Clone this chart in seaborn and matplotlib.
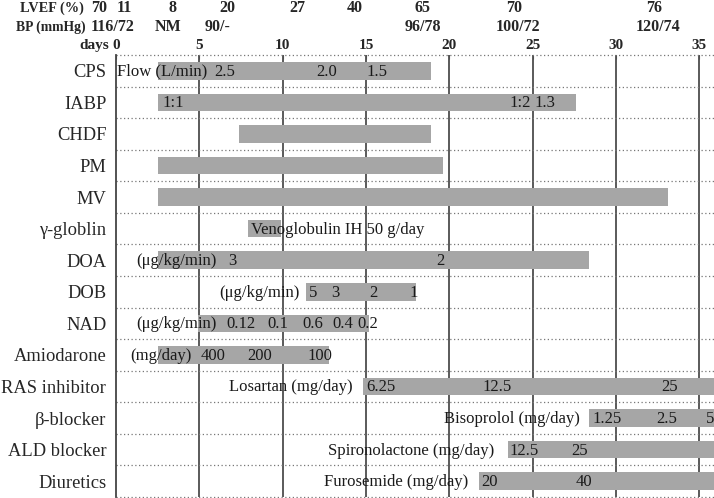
import matplotlib
matplotlib.use("Agg")
import matplotlib.pyplot as plt
import seaborn as sns
import pandas as pd
from matplotlib.transforms import blended_transform_factory

# ---------------- data ----------------
categories = ["CPS", "IABP", "CHDF", "PM", "MV", "γ-globlin", "DOA", "DOB",
              "NAD", "Amiodarone", "RAS inhibitor", "β-blocker", "ALD blocker",
              "Diuretics"]
start_day = [2.5, 2.5, 7.4, 2.5, 2.5, 7.9, 2.5, 11.4, 4.9, 2.5, 14.8, 28.4, 23.5, 21.8]
end_day = [18.9, 27.6, 18.9, 19.6, 33.1, 9.9, 28.4, 18.0, 15.2, 12.8, 36.5, 36.5, 36.5, 36.5]

day_ticks = [0, 5, 10, 15, 20, 25, 30, 35]

lvef_days = [-1.0, 0.5, 3.4, 6.7, 10.9, 14.3, 18.4, 23.9, 32.3]
lvef_values = ["70", "11", "8", "20", "27", "40", "65", "70", "76"]
bp_days = [-0.2, 3.1, 6.1, 18.4, 24.1, 32.5]
bp_values = ["116/72", "NM", "90/-", "96/78", "100/72", "120/74"]

note_rows = [0, 0, 0, 0,
             1, 1, 1,
             5,
             6, 6, 6,
             7, 7, 7, 7, 7,
             8, 8, 8, 8, 8, 8,
             9, 9, 9, 9,
             10, 10, 10, 10,
             11, 11, 11, 11,
             12, 12, 12,
             13, 13, 13]
note_days = [0.05, 5.9, 12.0, 15.0,
             2.8, 23.6, 25.1,
             8.1,
             1.2, 6.7, 19.2,
             6.2, 11.6, 12.9, 15.2, 17.6,
             1.2, 6.6, 9.1, 11.2, 13.0, 14.5,
             0.84, 5.1, 7.9, 11.5,
             6.8, 15.0, 22.0, 32.7,
             19.7, 28.6, 32.4, 35.4,
             12.7, 23.6, 27.3,
             12.5, 21.9, 27.6]
note_texts = ["Flow (L/min)", "2.5", "2.0", "1.5",
              "1:1", "1:2", "1.3",
              "Venoglobulin IH 50 g/day",
              "(μg/kg/min)", "3", "2",
              "(μg/kg/min)", "5", "3", "2", "1",
              "(μg/kg/min)", "0.12", "0.1", "0.6", "0.4", "0.2",
              "(mg/day)", "400", "200", "100",
              "Losartan (mg/day)", "6.25", "12.5", "25",
              "Bisoprolol (mg/day)", "1.25", "2.5", "5",
              "Spironolactone (mg/day)", "12.5", "25",
              "Furosemide (mg/day)", "20", "40"]

# ---------------- style ----------------
sns.set_style("white")
plt.rcParams["font.family"] = ["Liberation Serif", "DejaVu Serif"]

W, H = 714, 498
fig = plt.figure(figsize=(W / 100, H / 100), dpi=100)
ax_left, ax_top, ax_bottom = 116, 55, 497
ax = fig.add_axes([ax_left / W, 1 - ax_bottom / H, (W - ax_left) / W,
                   (ax_bottom - ax_top) / H])

df = pd.DataFrame({"category": categories, "end": end_day})
sns.barplot(data=df, x="end", y="category", orient="h", color="#a6a6a6",
            saturation=1, width=0.56, ax=ax, zorder=2)
for patch, s, e in zip(ax.patches, start_day, end_day):
    patch.set_x(s)
    patch.set_width(e - s)
    patch.set_edgecolor("none")

ax.set_xlim(0, (W - ax_left) / 16.67)
ax.set_ylim(len(categories) - 0.5, -0.5)
ax.set_xlabel("")
ax.set_ylabel("")

# vertical grid lines
for d in day_ticks[1:]:
    ax.axvline(d, color="#4d4d4d", lw=1.3, zorder=1)
# dotted row separators
for k in range(len(categories) + 1):
    ax.axhline(k - 0.5, color="#777777", ls=(0, (1, 2)), lw=0.9, zorder=1,
               clip_on=False)

for side in ["top", "right", "bottom"]:
    ax.spines[side].set_visible(False)
ax.spines["left"].set_color("#444444")
ax.spines["left"].set_linewidth(1.3)

ax.xaxis.tick_top()
ax.set_xticks(day_ticks)
ax.set_xticklabels([str(d) for d in day_ticks], fontweight="bold", fontsize=11)
ax.tick_params(axis="x", direction="in", length=3, pad=2, color="#666666")
ax.set_yticks(range(len(categories)))
ax.set_yticklabels(categories, fontsize=13.3)
ax.tick_params(axis="y", length=0, pad=7)

# notes inside / beside bars
for r, d, t in zip(note_rows, note_days, note_texts):
    ax.text(d, r + 0.03, t, ha="left", va="center", fontsize=12,
            color="#1a1a1a", zorder=3, clip_on=False)

# header rows
trans = blended_transform_factory(ax.transData, fig.transFigure)
y_lvef = 1 - 8 / H
y_bp = 1 - 27 / H
y_days = 1 - 46 / H
fig.text(20 / W, y_lvef, "LVEF (%)", ha="left", va="center",
         fontweight="bold", fontsize=10.3)
fig.text(16 / W, y_bp, "BP\u2009(mmHg)", ha="left", va="center",
         fontweight="bold", fontsize=9.8)
for d, v in zip(lvef_days, lvef_values):
    ax.text(d, y_lvef, v, transform=trans, ha="center", va="center",
            fontweight="bold", fontsize=11.5, clip_on=False)
for d, v in zip(bp_days, bp_values):
    ax.text(d, y_bp, v, transform=trans, ha="center", va="center",
            fontweight="bold", fontsize=11.5, clip_on=False)
ax.text(-0.4, y_days, "days", transform=trans, ha="right", va="center",
        fontweight="bold", fontsize=11, clip_on=False)

fig.savefig("out.png", dpi=100)
